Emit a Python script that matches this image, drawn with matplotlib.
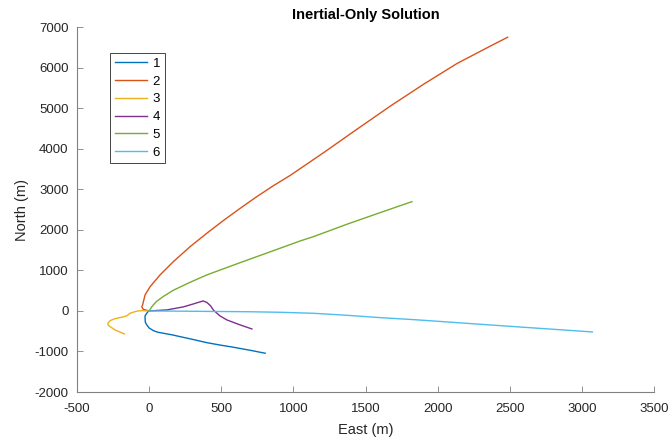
import matplotlib
matplotlib.use("Agg")
import matplotlib.pyplot as plt

plt.rcParams['font.family'] = ['Liberation Sans', 'DejaVu Sans']
plt.rcParams['axes.unicode_minus'] = False

# Trajectory estimates (East, North) in metres for each run
east_1 = [0, -10, -16, -28, -28, -26, -16, 0, 30, 60, 99, 160, 215, 300, 400, 490, 584, 700, 804]
north_1 = [0, -25, -57, -120, -180, -280, -345, -420, -486, -525, -550, -590, -634, -700, -782, -840, -895, -970, -1043]

east_2 = [0, -40, -51, -45, -28, 7, 76, 168, 284, 400, 515, 631, 747, 862, 977, 1208, 1440, 1671, 1902, 2133, 2364, 2484]
north_2 = [0, 40, 100, 148, 395, 599, 888, 1215, 1585, 1916, 2230, 2530, 2820, 3090, 3340, 3900, 4480, 5050, 5590, 6100, 6530, 6748]

east_3 = [0, -51, -75, -97, -132, -155, -189, -236, -270, -286, -284, -270, -236, -171]
north_3 = [0, 7, 0, -17, -57, -123, -155, -190, -239, -303, -350, -387, -468, -567]

east_4 = [0, 123, 238, 307, 345, 374, 400, 425, 446, 490, 539, 631, 712]
north_4 = [0, 25, 100, 173, 215, 246, 210, 130, 20, -120, -222, -345, -444]

east_5 = [0, 20, 50, 100, 168, 280, 400, 631, 862, 1047, 1139, 1371, 1601, 1821]
north_5 = [0, 110, 230, 360, 510, 700, 888, 1191, 1487, 1726, 1832, 2138, 2424, 2695]

east_6 = [0, 354, 700, 908, 1139, 1370, 1601, 1832, 2064, 2295, 2680, 3071]
north_6 = [0, -10, -20, -33, -58, -107, -165, -214, -271, -329, -423, -518]

run_labels = ['1', '2', '3', '4', '5', '6']
run_colors = ['#0072BD', '#D95319', '#EDB120', '#7E2F8E', '#77AC30', '#4DBEEE']

x_ticks = list(range(-500, 3501, 500))
y_ticks = list(range(-2000, 7001, 1000))

fig = plt.figure(figsize=(6.69, 4.43), dpi=100)
ax = fig.add_axes([0.115, 0.115, 0.863, 0.824])

series = [(east_1, north_1), (east_2, north_2), (east_3, north_3),
          (east_4, north_4), (east_5, north_5), (east_6, north_6)]
for (e, n), lab, col in zip(series, run_labels, run_colors):
    ax.plot(e, n, color=col, lw=1.0, label=lab, solid_joinstyle='round')

ax.set_xlim(-500, 3500)
ax.set_ylim(-2000, 7000)
ax.set_xticks(x_ticks)
ax.set_yticks(y_ticks)

axis_gray = '#262626'
for side in ['top', 'right']:
    ax.spines[side].set_visible(False)
for side in ['left', 'bottom']:
    ax.spines[side].set_color('#808080')
    ax.spines[side].set_linewidth(0.8)
ax.tick_params(direction='in', length=4, width=0.6, colors='#808080',
               labelcolor=axis_gray, labelsize=9.5, pad=6)
ax.tick_params(axis='x', pad=8)

ax.set_xlabel('East (m)', fontsize=10.5, color=axis_gray, labelpad=6)
ax.set_ylabel('North (m)', fontsize=10.5, color=axis_gray, labelpad=4)
ax.set_title('Inertial-Only Solution', fontsize=10.5, fontweight='bold',
             color='black', pad=6)

leg = ax.legend(loc='upper left', bbox_to_anchor=(0.058, 0.929),
                fontsize=9.5, handlelength=2.4, handletextpad=0.45,
                labelspacing=0.42, borderpad=0.35, borderaxespad=0,
                fancybox=False, framealpha=1.0, edgecolor='#262626')
leg.get_frame().set_linewidth(0.6)

fig.savefig('out.png', dpi=100)
